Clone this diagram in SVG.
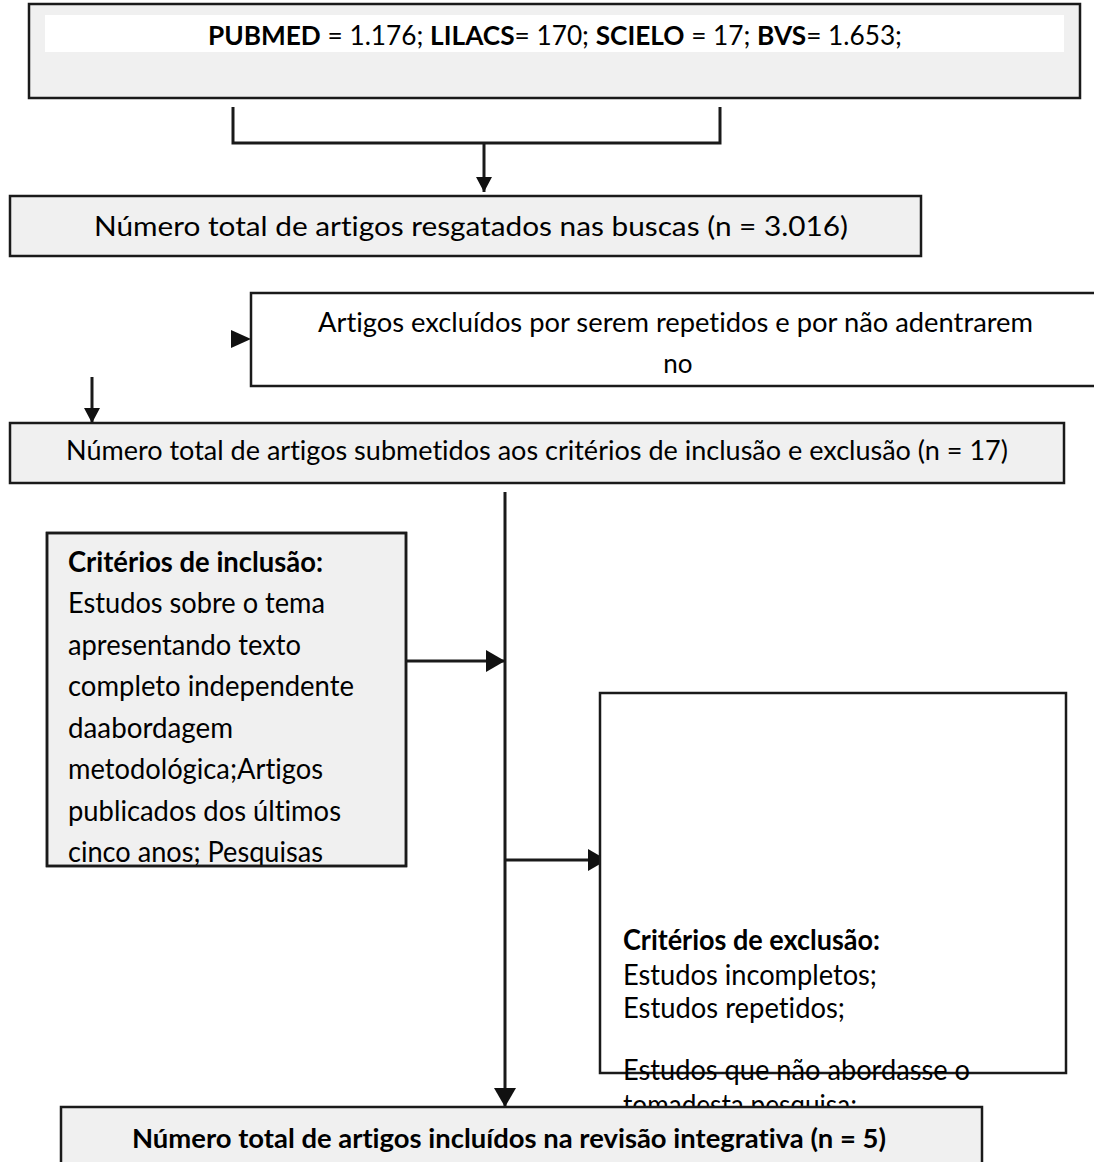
<svg xmlns="http://www.w3.org/2000/svg" width="1094" height="1162" viewBox="0 0 1094 1162">
<style>
.box{stroke:#1a1a1a;stroke-width:2.5}
.grey{fill:#f0f0f0}
.white{fill:#ffffff}
.t{font-family:Lato,"Open Sans","Liberation Sans",sans-serif;fill:#000;font-variant-ligatures:none;font-feature-settings:"liga" 0,"dlig" 0}
.b{font-weight:bold}
.con{stroke:#1a1a1a;stroke-width:3;fill:none}
</style>
<defs>
<marker id="ah" markerUnits="userSpaceOnUse" markerWidth="20" markerHeight="22" refX="19" refY="11" orient="auto">
<path d="M0,0 L19,11 L0,22 z" fill="#111"/>
</marker>
<marker id="ahs" markerUnits="userSpaceOnUse" markerWidth="16" markerHeight="16" refX="15" refY="8" orient="auto">
<path d="M0,0 L15,8 L0,16 z" fill="#111"/>
</marker>
<clipPath id="incClip"><rect x="47" y="533" width="359" height="333"/></clipPath>
</defs>

<g id="connectors">
<path class="con" d="M233,107 V143 H720 V107"/>
<line class="con" x1="484" y1="143" x2="484" y2="192" marker-end="url(#ahs)"/>
<polygon points="231,330 251,339 231,348" fill="#111"/>
<line class="con" x1="92" y1="377" x2="92" y2="423" marker-end="url(#ahs)"/>
<line class="con" x1="505" y1="492" x2="505" y2="1107" marker-end="url(#ah)"/>
<line class="con" x1="406" y1="661" x2="505" y2="661" marker-end="url(#ah)"/>
<line class="con" x1="505" y1="860" x2="607" y2="860" marker-end="url(#ah)"/>
</g>

<g id="sources">
<rect class="box grey" x="29" y="4" width="1051" height="94"/>
<rect class="white" x="45" y="15" width="1019" height="37"/>
<text class="t" x="208" y="45" font-size="26" textLength="694" lengthAdjust="spacingAndGlyphs"><tspan class="b">PUBMED</tspan> = 1.176; <tspan class="b">LILACS</tspan>= 170; <tspan class="b">SCIELO</tspan> = 17; <tspan class="b">BVS</tspan>= 1.653;</text>
</g>

<g id="total">
<rect class="box grey" x="10" y="196" width="911" height="60"/>
<text class="t" x="94" y="236" font-size="27" textLength="754" lengthAdjust="spacingAndGlyphs">Número total de artigos resgatados nas buscas (n = 3.016)</text>
</g>

<g id="excluded">
<rect class="box white" x="251" y="293" width="860" height="93"/>
<text class="t" x="318" y="332" font-size="26" textLength="715" lengthAdjust="spacingAndGlyphs">Artigos excluídos por serem repetidos e por não adentrarem</text>
<text class="t" x="678" y="373" font-size="26" text-anchor="middle">no</text>
</g>

<g id="submitted">
<rect class="box grey" x="10" y="423" width="1054" height="60"/>
<text class="t" x="66" y="460" font-size="26" textLength="942" lengthAdjust="spacingAndGlyphs">Número total de artigos submetidos aos critérios de inclusão e exclusão (n = 17)</text>
</g>

<g id="inclusion">
<rect class="box grey" x="47" y="533" width="359" height="333"/>
<g clip-path="url(#incClip)" class="t" font-size="28">
<text x="68" y="572" class="b" textLength="255" lengthAdjust="spacingAndGlyphs">Critérios de inclusão:</text>
<text x="68" y="613" textLength="257" lengthAdjust="spacingAndGlyphs">Estudos sobre o tema</text>
<text x="68" y="655" textLength="233" lengthAdjust="spacingAndGlyphs">apresentando texto</text>
<text x="68" y="696" textLength="286" lengthAdjust="spacingAndGlyphs">completo independente</text>
<text x="68" y="738" textLength="165" lengthAdjust="spacingAndGlyphs">daabordagem</text>
<text x="68" y="779" textLength="255" lengthAdjust="spacingAndGlyphs">metodológica;Artigos</text>
<text x="68" y="821" textLength="273" lengthAdjust="spacingAndGlyphs">publicados dos últimos</text>
<text x="68" y="862" textLength="255" lengthAdjust="spacingAndGlyphs">cinco anos; Pesquisas</text>
</g>
<rect x="47" y="533" width="359" height="333" fill="none" class="box"/>
</g>

<g id="exclusion">
<rect class="box white" x="600" y="693" width="466" height="380"/>
<g class="t" font-size="28">
<text x="623" y="950" class="b" textLength="257" lengthAdjust="spacingAndGlyphs">Critérios de exclusão:</text>
<text x="623" y="985" textLength="254" lengthAdjust="spacingAndGlyphs">Estudos incompletos;</text>
<text x="623" y="1018" textLength="222" lengthAdjust="spacingAndGlyphs">Estudos repetidos;</text>
<text x="623" y="1080" textLength="347" lengthAdjust="spacingAndGlyphs">Estudos que não abordasse o</text>
<text x="623" y="1115" textLength="234" lengthAdjust="spacingAndGlyphs">tomadesta pesquisa;</text>
</g>
</g>

<g id="included">
<rect class="box grey" x="61" y="1107" width="921" height="70"/>
<text class="t b" x="132" y="1148" font-size="26" textLength="754" lengthAdjust="spacingAndGlyphs">Número total de artigos incluídos na revisão integrativa (n = 5)</text>
</g>
</svg>
